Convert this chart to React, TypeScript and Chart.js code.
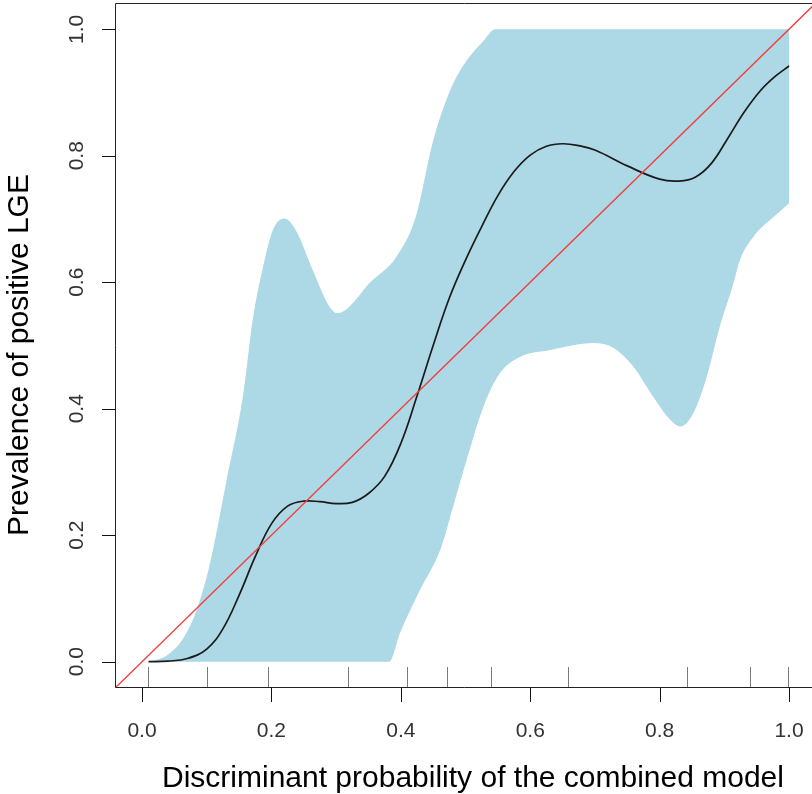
import React, { useEffect, useRef } from "react";
import { Chart, registerables } from "chart.js";

Chart.register(...registerables);

// ---- data ----
const CURVE_X = [0.010, 0.040, 0.070, 0.100, 0.125, 0.150, 0.175, 0.200, 0.225, 0.250, 0.275, 0.300, 0.325, 0.350, 0.375, 0.400, 0.425, 0.450, 0.475, 0.500, 0.525, 0.550, 0.575, 0.600, 0.625, 0.650, 0.675, 0.700, 0.750, 0.800, 0.830, 0.855, 0.880, 0.905, 0.930, 0.955, 0.978, 1.000];
const CURVE_Y = [0.000, 0.001, 0.005, 0.020, 0.052, 0.105, 0.166, 0.218, 0.246, 0.254, 0.253, 0.250, 0.252, 0.266, 0.293, 0.345, 0.420, 0.500, 0.575, 0.635, 0.688, 0.737, 0.775, 0.801, 0.815, 0.819, 0.816, 0.809, 0.784, 0.763, 0.760, 0.766, 0.788, 0.827, 0.868, 0.902, 0.925, 0.942];

const UPPER_X = [0.010, 0.037, 0.063, 0.083, 0.104, 0.130, 0.156, 0.171, 0.187, 0.202, 0.220, 0.238, 0.264, 0.290, 0.302, 0.320, 0.351, 0.393, 0.423, 0.450, 0.476, 0.502, 0.528, 0.546, 1.000];
const UPPER_Y = [0.000, 0.009, 0.036, 0.078, 0.151, 0.283, 0.420, 0.540, 0.624, 0.682, 0.701, 0.682, 0.619, 0.561, 0.551, 0.561, 0.598, 0.640, 0.703, 0.824, 0.903, 0.951, 0.982, 1.000, 1.000];

const LOWER_X = [0.010, 0.382, 0.399, 0.430, 0.461, 0.481, 0.502, 0.528, 0.553, 0.584, 0.631, 0.698, 0.729, 0.759, 0.790, 0.816, 0.832, 0.852, 0.873, 0.893, 0.914, 0.924, 0.945, 0.976, 1.000];
const LOWER_Y = [0.000, 0.000, 0.046, 0.114, 0.177, 0.246, 0.320, 0.404, 0.456, 0.482, 0.493, 0.504, 0.496, 0.467, 0.419, 0.383, 0.372, 0.393, 0.451, 0.530, 0.598, 0.635, 0.672, 0.703, 0.725];

const RUG_X = [0.009, 0.100, 0.195, 0.318, 0.410, 0.471, 0.539, 0.658, 0.842, 0.940, 0.998];

const REF_LINE = [-0.1, 1.1]; // y = x

const X_TICKS = [0, 0.2, 0.4, 0.6, 0.8, 1.0];
const Y_TICKS = [0, 0.2, 0.4, 0.6, 0.8, 1.0];
const X_LABELS = ["0.0", "0.2", "0.4", "0.6", "0.8", "1.0"];
const Y_LABELS = ["0.0", "0.2", "0.4", "0.6", "0.8", "1.0"];

const X_TITLE = "Discriminant probability of the combined model";
const Y_TITLE = "Prevalence of positive LGE";

const X_MIN = -0.0402;
const X_MAX = 1.0355;
const Y_MIN = -0.04;
const Y_MAX = 1.04;

const FONT = '"Liberation Sans", Arial, sans-serif';

const pts = (xs: number[], ys: number[]) => xs.map((x, i) => ({ x, y: ys[i] }));

const axesPlugin = {
  id: "rAxes",
  afterDatasetsDraw(chart: any) {
    const { ctx, chartArea: a, scales } = chart;
    const xs = scales.x;
    const ys = scales.y;
    ctx.save();

    // rug
    ctx.strokeStyle = "#7a7a7a";
    ctx.lineWidth = 1;
    ctx.beginPath();
    RUG_X.forEach((v) => {
      const px = Math.round(xs.getPixelForValue(v)) + 0.5;
      ctx.moveTo(px, a.bottom);
      ctx.lineTo(px, a.bottom - 20);
    });
    ctx.stroke();

    // box (right side lies outside the canvas)
    ctx.strokeStyle = "#222";
    ctx.lineWidth = 1;
    ctx.beginPath();
    ctx.moveTo(a.right + 5, a.top - 0.5);
    ctx.lineTo(a.left - 0.5, a.top - 0.5);
    ctx.lineTo(a.left - 0.5, a.bottom + 0.5);
    ctx.lineTo(a.right + 5, a.bottom + 0.5);
    ctx.stroke();

    // x axis ticks + labels
    ctx.strokeStyle = "#111";
    ctx.beginPath();
    X_TICKS.forEach((v) => {
      const px = Math.round(xs.getPixelForValue(v)) + 0.5;
      ctx.moveTo(px, a.bottom + 0.5);
      ctx.lineTo(px, a.bottom + 15);
    });
    ctx.stroke();
    ctx.fillStyle = "#333";
    ctx.font = `21px ${FONT}`;
    ctx.textAlign = "center";
    ctx.textBaseline = "alphabetic";
    X_TICKS.forEach((v, i) => {
      ctx.fillText(X_LABELS[i], xs.getPixelForValue(v), a.bottom + 50);
    });

    // y axis ticks + labels
    ctx.beginPath();
    Y_TICKS.forEach((v) => {
      const py = Math.round(ys.getPixelForValue(v)) + 0.5;
      ctx.moveTo(a.left - 0.5, py);
      ctx.lineTo(a.left - 14, py);
    });
    ctx.stroke();
    Y_TICKS.forEach((v, i) => {
      ctx.save();
      ctx.translate(a.left - 33, ys.getPixelForValue(v));
      ctx.rotate(-Math.PI / 2);
      ctx.fillText(Y_LABELS[i], 0, 0);
      ctx.restore();
    });

    // titles
    ctx.fillStyle = "#000";
    ctx.font = `30px ${FONT}`;
    ctx.textAlign = "left";
    ctx.fillText(X_TITLE, 162, a.bottom + 100);
    ctx.save();
    ctx.translate(28, 355);
    ctx.rotate(-Math.PI / 2);
    ctx.textAlign = "center";
    ctx.fillText(Y_TITLE, 0, 0);
    ctx.restore();

    ctx.restore();
  },
};

export default function App() {
  const ref = useRef<HTMLCanvasElement | null>(null);

  useEffect(() => {
    if (!ref.current) return;
    const chart = new Chart(ref.current, {
      type: "line",
      data: {
        datasets: [
          {
            label: "lower",
            data: pts(LOWER_X, LOWER_Y),
            borderWidth: 0,
            borderColor: "rgba(0,0,0,0)",
            pointRadius: 0,
            fill: false,
            cubicInterpolationMode: "monotone",
            order: 4,
          },
          {
            label: "upper",
            data: pts(UPPER_X, UPPER_Y),
            borderWidth: 0,
            borderColor: "rgba(0,0,0,0)",
            backgroundColor: "#ADD8E6",
            pointRadius: 0,
            fill: "-1",
            cubicInterpolationMode: "monotone",
            order: 3,
          },
          {
            label: "curve",
            data: pts(CURVE_X, CURVE_Y),
            borderColor: "#1a1a1a",
            borderWidth: 1.7,
            pointRadius: 0,
            fill: false,
            tension: 0.4,
            order: 2,
          },
          {
            label: "identity",
            data: REF_LINE.map((v) => ({ x: v, y: v })),
            borderColor: "#f23c3c",
            borderWidth: 1.4,
            pointRadius: 0,
            fill: false,
            order: 1,
          },
        ],
      },
      options: {
        responsive: false,
        animation: false,
        layout: { padding: { left: 116, top: 4, right: 0, bottom: 107 } },
        plugins: {
          legend: { display: false },
          tooltip: { enabled: false },
          title: { display: false },
        },
        scales: {
          x: { type: "linear", min: X_MIN, max: X_MAX, display: false },
          y: { type: "linear", min: Y_MIN, max: Y_MAX, display: false },
        },
      },
      plugins: [axesPlugin],
    });
    return () => chart.destroy();
  }, []);

  return (
    <div style={{ position: "absolute", left: 0, top: 0, width: 812, height: 794, background: "#fff" }}>
      <canvas ref={ref} width={812} height={794} style={{ display: "block" }} />
    </div>
  );
}
